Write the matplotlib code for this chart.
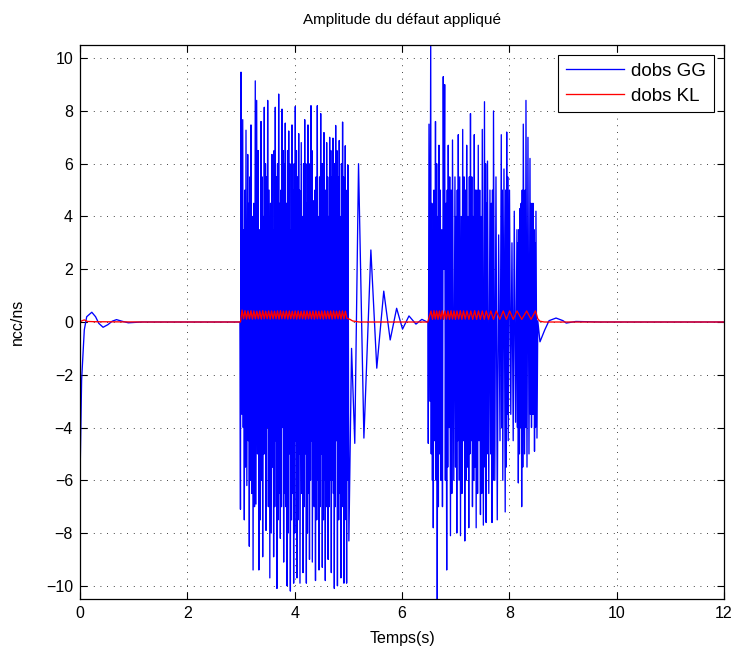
import numpy as np
import matplotlib
matplotlib.use('Agg')
import matplotlib.pyplot as plt

plt.rcParams['font.family'] = ['Liberation Sans', 'DejaVu Sans']

# dobs GG : start-up transient
gg0_t = [0.0, 0.03, 0.08, 0.125, 0.22, 0.29, 0.35, 0.43, 0.52, 0.60, 0.68, 0.78, 0.90, 1.15]
gg0_v = [-6.0, -2.2, -0.3, 0.2, 0.37, 0.2, -0.05, -0.2, -0.1, 0.03, 0.09, 0.03, -0.03, 0.0]

gg1_t = [2.980, 2.990, 3.000, 3.016, 3.032, 3.062, 3.093, 3.109, 3.125, 3.155,
         3.186, 3.225, 3.266, 3.279, 3.292, 3.333, 3.373, 3.404, 3.434, 3.466,
         3.497, 3.537, 3.577, 3.608, 3.639, 3.670, 3.702, 3.733, 3.764, 3.795,
         3.825, 3.857, 3.889, 3.920, 3.950, 3.981, 4.012, 4.043, 4.075, 4.099,
         4.123, 4.155, 4.187, 4.218, 4.248, 4.276, 4.304, 4.329, 4.354, 4.388,
         4.422, 4.453, 4.485, 4.515, 4.546, 4.571, 4.596, 4.624, 4.652, 4.683,
         4.714, 4.739, 4.764, 4.797, 4.831, 4.862, 4.893, 4.918, 4.943, 4.968,
         4.994, 5.010, 5.060, 5.120, 5.190, 5.290, 5.420, 5.530, 5.660, 5.780,
         5.900, 6.010, 6.130, 6.260, 6.370, 6.470]
gg1_v = [0.0, -7.1, 9.47, -3.5, 7.67, -7.5, 7.27, -6.2, 6.35, -8.5,
         7.47, -9.4, 9.14, -6.9, 8.4, -9.4, 7.6, -8.9, 8.14, -7.9,
         8.4, -9.7, 6.35, -8.9, 8.14, -10.1, 8.64, -8.2, 8.07, -9.1,
         7.54, -10.0, 7.24, -10.2, 7.47, -9.9, 8.17, -9.7, 7.14, -9.9,
         6.8, -9.5, 7.67, -9.9, 7.47, -9.0, 8.2, -9.1, 4.6, -9.8,
         8.2, -9.4, 7.9, -9.3, 7.18, -9.8, 6.8, -9.0, 7.0, -9.5,
         6.97, -10.1, 7.45, -10.0, 6.88, -9.7, 7.58, -9.9, 6.68, -9.9,
         5.95, -8.3, -1.0, -4.6, 6.0, -4.4, 2.73, -1.75, 1.17, -0.68,
         0.52, -0.27, 0.23, -0.08, 0.10, 0.0]

# dobs GG : first burst, smaller swings that fill the middle of the burst
gg1s_t = [3.042, 3.052, 3.072, 3.083, 3.135, 3.145, 3.165, 3.176, 3.199, 3.212,
          3.239, 3.252, 3.306, 3.320, 3.346, 3.360, 3.383, 3.394, 3.414, 3.424,
          3.445, 3.456, 3.476, 3.487, 3.510, 3.524, 3.550, 3.564, 3.587, 3.598,
          3.618, 3.629, 3.649, 3.660, 3.681, 3.691, 3.712, 3.723, 3.743, 3.754,
          3.774, 3.785, 3.805, 3.815, 3.836, 3.846, 3.868, 3.878, 3.899, 3.910,
          3.930, 3.940, 3.960, 3.971, 3.991, 4.002, 4.022, 4.033, 4.054, 4.064,
          4.083, 4.091, 4.134, 4.144, 4.166, 4.176, 4.197, 4.208, 4.228, 4.238,
          4.257, 4.267, 4.285, 4.295, 4.312, 4.321, 4.365, 4.377, 4.399, 4.411,
          4.432, 4.443, 4.464, 4.474, 4.495, 4.505, 4.525, 4.536, 4.554, 4.563,
          4.579, 4.588, 4.605, 4.615, 4.633, 4.643, 4.662, 4.673, 4.693, 4.704,
          4.722, 4.731, 4.747, 4.756, 4.775, 4.786, 4.808, 4.820, 4.841, 4.852,
          4.872, 4.883, 4.901, 4.910, 4.926, 4.935, 4.951, 4.960, 4.977, 4.986]
gg1s_v = [-4.0, 3.5, 5.0, -5.5, -4.5, 4.5, 5.5, -6.0, -6.5, 4.0,
          4.5, -7.0, -5.0, 6.5, 3.5, -7.5, -6.0, 5.5, 4.0, -5.0,
          -5.0, 6.0, 5.5, -4.0, -7.0, 5.0, 4.5, -8.0, -5.5, 3.5,
          6.5, -7.0, -4.5, 5.5, 6.0, -7.5, -6.5, 4.5, 5.0, -7.0,
          -4.0, 6.5, 6.0, -6.5, -7.0, 4.5, 6.5, -8.0, -5.0, 6.0,
          3.5, -7.5, -6.5, 5.0, 6.0, -8.0, -4.5, 6.5, 5.5, -7.5,
          -5.0, 5.0, -6.5, 4.0, 6.0, -7.0, -5.0, 6.0, 4.5, -8.0,
          -6.5, 5.5, 6.0, -6.0, -4.5, 6.5, -7.0, 5.0, 5.5, -7.5,
          -6.0, 4.0, 5.5, -7.0, -5.0, 6.0, 6.0, -7.5, -6.0, 4.5,
          5.0, -7.0, -6.5, 5.5, 4.0, -7.0, -6.0, 6.5, 5.5, -6.0,
          -6.5, 5.0, 6.0, -7.0, -4.5, 6.5, 5.5, -7.5, -6.5, 4.0,
          6.0, -7.0, -5.0, 5.5, 5.0, -7.5, -6.0, 4.0, 5.0, -6.0]

# dobs GG : second burst, main extrema + tail
gg2_t = [6.484, 6.490, 6.503, 6.518, 6.535, 6.583, 6.624, 6.657, 6.689, 6.726,
         6.769, 6.780, 6.795, 6.833, 6.862, 6.903, 6.941, 6.965, 6.987, 7.021,
         7.049, 7.090, 7.131, 7.170, 7.205, 7.244, 7.276, 7.313, 7.347, 7.382,
         7.421, 7.462, 7.496, 7.516, 7.537, 7.568, 7.593, 7.617, 7.639, 7.677,
         7.705, 7.729, 7.751, 7.775, 7.801, 7.826, 7.850, 7.878, 7.900, 7.923,
         7.951, 7.979, 8.003, 8.027, 8.049, 8.072, 8.092, 8.116, 8.142, 8.168,
         8.198, 8.230, 8.260, 8.284, 8.310, 8.329, 8.347, 8.366, 8.385, 8.413,
         8.440, 8.469, 8.496, 8.515, 8.530, 8.571, 8.660, 8.740, 8.870, 9.000,
         9.060, 9.240, 9.690, 12.0]
gg2_v = [0.0, -4.6, 7.5, -3.0, 10.6, -7.8, 7.6, -10.6, 6.7, -6.0,
         9.3, 2.0, 9.0, -9.4, 6.7, -8.1, 6.9, -6.0, 5.5, -8.0,
         7.1, -8.1, 7.3, -8.3, 6.7, -7.8, 7.9, -7.0, 7.1, -7.8,
         6.7, -7.3, 7.3, -7.7, 8.35, -7.6, 6.1, -6.5, 5.0, -7.6,
         8.0, -6.0, 5.5, -7.5, 3.3, -4.5, 7.1, -6.0, 5.8, -7.2,
         7.2, -4.5, 5.0, -3.5, 3.0, -4.5, 4.2, -3.8, 3.5, -6.1,
         4.3, -7.0, 7.5, -5.0, 8.4, -5.5, 7.0, -5.0, 6.2, -4.0,
         4.5, -4.9, 4.2, -4.4, 0.05, -0.75, -0.3, 0.05, 0.15, 0.05,
         -0.04, 0.02, 0.0, 0.0]

# dobs GG : second burst, smaller swings
gg2s_t = [6.545, 6.556, 6.567, 6.575, 6.595, 6.610, 6.635, 6.646, 6.668, 6.678,
          6.701, 6.714, 6.740, 6.754, 6.808, 6.820, 6.843, 6.852, 6.876, 6.889,
          6.916, 6.928, 6.998, 7.010, 7.030, 7.040, 7.063, 7.076, 7.104, 7.117,
          7.144, 7.157, 7.182, 7.193, 7.218, 7.231, 7.255, 7.265, 7.288, 7.301,
          7.324, 7.336, 7.359, 7.370, 7.395, 7.408, 7.435, 7.448, 7.473, 7.485,
          7.547, 7.558, 7.576, 7.585, 7.652, 7.664, 7.686, 7.696, 7.859, 7.869,
          7.932, 7.942, 7.960, 7.970, 8.151, 8.160, 8.178, 8.188, 8.209, 8.220,
          8.240, 8.250, 8.293, 8.302, 8.394, 8.404, 8.422, 8.431, 8.450, 8.460,
          8.478, 8.487]
gg2s_v = [-5.0, 4.5, -6.0, 3.5, 5.0, -4.5, -6.0, 6.0, 4.0, -7.0,
          -5.0, 5.0, 3.5, -7.0, -6.0, 4.5, 5.0, -5.5, -4.0, 5.5,
          5.0, -6.5, -5.5, 4.0, 5.0, -4.5, -6.0, 5.5, 4.0, -6.5,
          -4.5, 5.5, 5.0, -6.0, -5.5, 4.0, 5.5, -5.0, -4.5, 5.5,
          4.0, -6.0, -5.5, 5.0, 5.0, -6.5, -4.5, 5.0, 4.0, -6.5,
          -5.5, 6.0, 4.5, -5.0, -5.0, 4.5, 5.0, -6.0, -4.0, 5.0,
          5.0, -5.5, -3.5, 5.5, -4.0, 3.0, 3.5, -5.0, -4.0, 4.5,
          5.0, -5.5, 5.0, -4.0, -3.5, 4.5, 3.5, -3.5, -3.5, 3.5,
          3.0, -4.0]

# dobs KL : start
kl0_t = [0.0, 0.04, 0.08, 0.14, 0.3, 1.2, 2.99]
kl0_v = [0.0, 0.05, 0.08, 0.02, 0.01, 0.0, 0.0]

# dobs KL : first burst, peaks and troughs
kl1_peak_t = [3.020, 3.075, 3.130, 3.185, 3.240, 3.295, 3.350, 3.405, 3.460, 3.515,
              3.570, 3.625, 3.680, 3.735, 3.790, 3.845, 3.900, 3.955, 4.010, 4.065,
              4.120, 4.175, 4.230, 4.285, 4.340, 4.395, 4.450, 4.505, 4.560, 4.615,
              4.670, 4.725, 4.780, 4.835, 4.890, 4.945]
kl1_peak_v = [0.45, 0.43, 0.42, 0.43, 0.42, 0.41, 0.42, 0.43, 0.41, 0.42,
              0.42, 0.41, 0.42, 0.43, 0.41, 0.42, 0.42, 0.41, 0.42, 0.42,
              0.41, 0.42, 0.42, 0.41, 0.42, 0.42, 0.41, 0.42, 0.42, 0.41,
              0.42, 0.42, 0.41, 0.42, 0.42, 0.41]
kl1_trough_t = [3.048, 3.103, 3.158, 3.213, 3.268, 3.323, 3.378, 3.433, 3.488, 3.543,
                3.598, 3.653, 3.708, 3.763, 3.818, 3.873, 3.928, 3.983, 4.038, 4.093,
                4.148, 4.203, 4.258, 4.313, 4.368, 4.423, 4.478, 4.533, 4.588, 4.643,
                4.698, 4.753, 4.808, 4.863, 4.918, 4.973]
kl1_trough_v = [0.12, 0.11, 0.12, 0.11, 0.12, 0.12, 0.11, 0.12, 0.12, 0.11,
                0.12, 0.12, 0.11, 0.12, 0.12, 0.11, 0.12, 0.12, 0.11, 0.12,
                0.12, 0.11, 0.12, 0.12, 0.11, 0.12, 0.12, 0.11, 0.12, 0.12,
                0.11, 0.12, 0.12, 0.11, 0.12, 0.14]
kl1_end_t = [5.000, 5.030, 5.080, 5.200, 6.480]
kl1_end_v = [0.12, 0.10, 0.04, 0.0, 0.0]

# dobs KL : second burst (frequency decreasing)
kl2_peak_t = [6.540, 6.596, 6.646, 6.698, 6.749, 6.801, 6.857, 6.913, 6.969, 7.024,
              7.086, 7.146, 7.211, 7.282, 7.354, 7.425, 7.496, 7.570, 7.654, 7.757,
              7.887, 8.006, 8.142, 8.323, 8.487]
kl2_peak_v = [0.42, 0.43, 0.42, 0.42, 0.43, 0.42, 0.42, 0.43, 0.42, 0.42,
              0.43, 0.42, 0.42, 0.42, 0.43, 0.42, 0.42, 0.42, 0.42, 0.42,
              0.42, 0.42, 0.42, 0.42, 0.42]
kl2_trough_t = [6.568, 6.621, 6.672, 6.723, 6.775, 6.829, 6.885, 6.941, 6.996, 7.055,
                7.116, 7.178, 7.246, 7.318, 7.390, 7.460, 7.533, 7.612, 7.705, 7.822,
                7.946, 8.074, 8.232, 8.405]
kl2_trough_v = [0.10, 0.11, 0.10, 0.11, 0.10, 0.11, 0.10, 0.11, 0.10, 0.11,
                0.10, 0.11, 0.10, 0.10, 0.10, 0.10, 0.10, 0.10, 0.10, 0.10,
                0.10, 0.10, 0.10, 0.10]
kl2_end_t = [8.530, 8.570, 8.650, 12.0]
kl2_end_v = [0.12, 0.03, 0.0, 0.0]


def weave(t1, v1, t2, v2):
    # merge two sets of points in time order
    t = np.concatenate([t1, t2])
    v = np.concatenate([v1, v2])
    order = np.argsort(t, kind='stable')
    return t[order], v[order]


b1_t, b1_v = weave(gg1_t, gg1_v, gg1s_t, gg1s_v)
b2_t, b2_v = weave(gg2_t, gg2_v, gg2s_t, gg2s_v)
gg_t = np.concatenate([gg0_t, b1_t, b2_t])
gg_v = np.concatenate([gg0_v, b1_v, b2_v])

k1_t, k1_v = weave(kl1_peak_t, kl1_peak_v, kl1_trough_t, kl1_trough_v)
k2_t, k2_v = weave(kl2_peak_t, kl2_peak_v, kl2_trough_t, kl2_trough_v)
kl_t = np.concatenate([kl0_t, k1_t, kl1_end_t, k2_t, kl2_end_t])
kl_v = np.concatenate([kl0_v, k1_v, kl1_end_v, k2_v, kl2_end_v])

fig = plt.figure(figsize=(7.37, 6.57), dpi=100)
ax = fig.add_axes([80 / 737, 1 - 599 / 657, 644 / 737, 554 / 657])

ax.plot(gg_t, gg_v, color='#0000ff', linewidth=0.95, label='dobs GG')
ax.plot(kl_t, kl_v, color='#ff0000', linewidth=0.95, label='dobs KL')

ax.set_xlim(0, 12)
ax.set_ylim(-10.5, 10.5)
ax.set_xticks(np.arange(0, 13, 2))
ax.set_yticks(np.arange(-10, 11, 2))
ax.tick_params(direction='in', top=True, right=True, length=5, width=0.8,
               labelsize=11.5, colors='black', pad=5)
ax.grid(True, color='black', linestyle=(0, (1, 7)), linewidth=0.6)
for s in ax.spines.values():
    s.set_linewidth(0.9)

ax.set_title('Amplitude du défaut appliqué', fontsize=11, pad=15)
ax.set_xlabel('Temps(s)', fontsize=11.5, labelpad=7)
ax.set_ylabel('ncc/ns', fontsize=11.5, labelpad=15)

leg = ax.legend(loc='upper right', fontsize=13.5, fancybox=False, framealpha=1,
                edgecolor='black', handlelength=3.1, borderaxespad=0.55,
                labelspacing=0.4, borderpad=0.4, handletextpad=0.4)
leg.get_frame().set_linewidth(0.8)

fig.savefig('out.png', dpi=100)
